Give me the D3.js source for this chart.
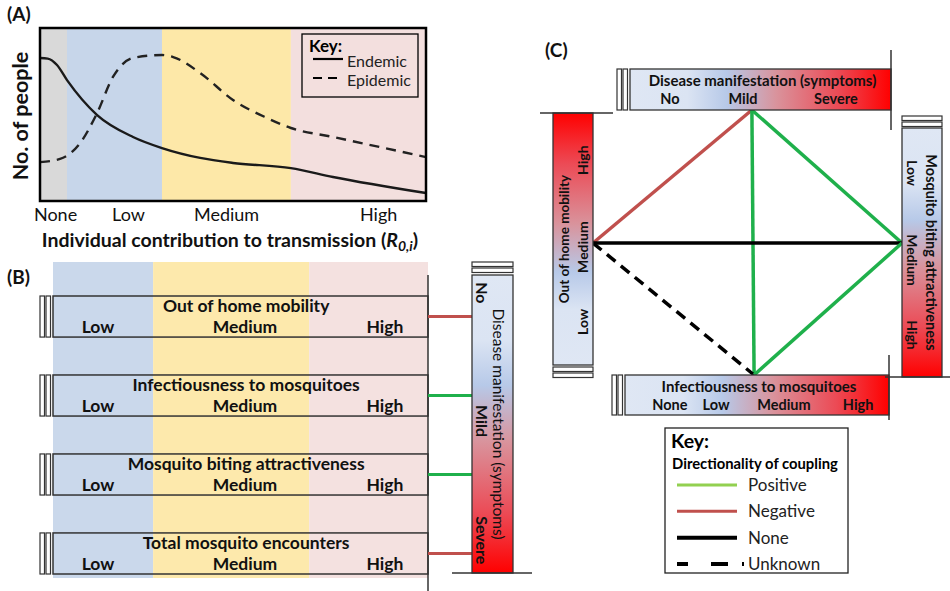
<!DOCTYPE html>
<html>
<head>
<meta charset="utf-8">
<style>
  body { margin: 0; background: #fff; }
  svg { font-family: Lato, 'Open Sans', sans-serif; }
</style>
<script src="https://d3js.org/d3.v7.min.js"></script>
</head>
<body>
<script>
// ---- panel A data ----
const levelNames = ['None', 'Low', 'Medium', 'High'];
const levelTickPos = [3.9, 22.8, 48.2, 87.6];
const bandEdges = [0, 7, 31.6, 65, 100];
const endemicX = [0, 2, 4.4, 7, 14.8, 24.1, 31.6, 41.5, 50, 65, 75.9, 100];
const endemicY = [82.7, 82.3, 78.6, 69.9, 49.7, 37, 30.6, 24.9, 22, 19, 13.9, 4.6];
const epidemicX = [0, 5.2, 10.4, 14.8, 18.9, 24.1, 31.6, 34.5, 41.5, 50, 58.8, 65, 75.9, 100];
const epidemicY = [22.5, 24.3, 33.5, 50.9, 71.7, 82.7, 84.4, 83.2, 74, 58.4, 48, 42.2, 37, 25.4];

// ---- panel B data ----
const traitNames = ['Out of home mobility', 'Infectiousness to mosquitoes', 'Mosquito biting attractiveness', 'Total mosquito encounters'];
const traitCoupling = ['Negative', 'Positive', 'Positive', 'Negative'];
const rowLevels = ['Low', 'Medium', 'High'];
const rowLevelPos = [12, 51.2, 88.5];
const rowBandEdges = [0, 26.7, 68.3, 100];
const symptomLevels = ['No', 'Mild', 'Severe'];
const symptomLevelPos = [0.06, 0.49, 0.89];

// ---- panel C data ----
const cTraits = ['Disease manifestation (symptoms)', 'Out of home mobility', 'Mosquito biting attractiveness', 'Infectiousness to mosquitoes'];
const cLevels = [['No', 'Mild', 'Severe'], ['Low', 'Medium', 'High'], ['Low', 'Medium', 'High'], ['None', 'Low', 'Medium', 'High']];
const cLevelPos = [[0.153, 0.433, 0.789], [0.171, 0.468, 0.813], [0.181, 0.53, 0.831], [0.17, 0.345, 0.602, 0.883]];
const cNodePos = [0.467, 0.484, 0.462, 0.489];
const links = [
  { source: 0, target: 1, type: 'Negative' },
  { source: 0, target: 3, type: 'Positive' },
  { source: 0, target: 2, type: 'Positive' },
  { source: 1, target: 2, type: 'None' },
  { source: 1, target: 3, type: 'Unknown' },
  { source: 3, target: 2, type: 'Positive' }
];
const keyTypes = ['Positive', 'Negative', 'None', 'Unknown'];

const bandColors = ['#d9d9d9', '#c7d6ea', '#fde8a8', '#f3dfde'];
const linkColor = { Positive: '#1fb04b', Negative: '#c0504d', None: '#000', Unknown: '#000' };
const keyColor = { Positive: '#92d050', Negative: '#c0504d', None: '#000', Unknown: '#000' };

const svg = d3.select('body').append('svg').attr('width', 950).attr('height', 591);

// gradient
const defs = svg.append('defs');
function gradient(id, x1, y1, x2, y2) {
  const g = defs.append('linearGradient').attr('id', id)
    .attr('x1', x1).attr('y1', y1).attr('x2', x2).attr('y2', y2);
  [[0, '#dfe7f4'], [0.22, '#dbe4f3'], [0.37, '#b7c9e8'], [0.56, '#d9939c'], [0.8, '#ec4a55'], [1, '#ff0000']]
    .forEach(s => g.append('stop').attr('offset', s[0]).attr('stop-color', s[1]));
}
gradient('gRight', 0, 0, 1, 0);
gradient('gDown', 0, 0, 0, 1);
gradient('gUp', 0, 1, 0, 0);

function marks(g, x, y, w, h, vertical) {
  // small "||" ends
  if (vertical) {
    g.append('rect').attr('x', x).attr('y', y).attr('width', 4.5).attr('height', h);
    g.append('rect').attr('x', x + 6).attr('y', y).attr('width', 4.5).attr('height', h);
  } else {
    g.append('rect').attr('x', x).attr('y', y).attr('width', w).attr('height', 4.5);
    g.append('rect').attr('x', x).attr('y', y + 6).attr('width', w).attr('height', 4.5);
  }
  g.selectAll('rect').attr('fill', '#fff').attr('stroke', '#333').attr('stroke-width', 1.2);
}

// ================= panel A =================
const ax = d3.scaleLinear().domain([0, 100]).range([40, 426]);
const ay = d3.scaleLinear().domain([0, 100]).range([201, 28]);
const gA = svg.append('g');

gA.selectAll('rect.band').data(d3.pairs(bandEdges)).join('rect')
  .attr('class', 'band')
  .attr('x', d => ax(d[0])).attr('y', ay(100))
  .attr('width', d => ax(d[1]) - ax(d[0])).attr('height', ay(0) - ay(100))
  .attr('fill', (d, i) => bandColors[i]);

const line = d3.line().x(d => ax(d[0])).y(d => ay(d[1])).curve(d3.curveMonotoneX);
gA.append('path').datum(d3.zip(epidemicX, epidemicY)).attr('d', line)
  .attr('fill', 'none').attr('stroke', '#222').attr('stroke-width', 2.4).attr('stroke-dasharray', '10,7');
gA.append('path').datum(d3.zip(endemicX, endemicY)).attr('d', line)
  .attr('fill', 'none').attr('stroke', '#1a1a1a').attr('stroke-width', 2.4);

gA.append('rect').attr('x', ax(0)).attr('y', ay(100))
  .attr('width', ax(100) - ax(0)).attr('height', ay(0) - ay(100))
  .attr('fill', 'none').attr('stroke', '#000').attr('stroke-width', 2.5);

const xAxis = d3.axisBottom(ax).tickValues(levelTickPos)
  .tickFormat((d, i) => levelNames[i]).tickSize(0).tickPadding(7);
gA.append('g').attr('transform', `translate(0,${ay(0)})`).call(xAxis)
  .call(g => g.select('.domain').remove())
  .selectAll('text').attr('font-size', 18).attr('fill', '#111').style('font-family', 'Lato');

const xt = gA.append('text').attr('x', 230).attr('y', 247).attr('text-anchor', 'middle')
  .attr('font-weight', 'bold').attr('font-size', 19.5).attr('fill', '#111');
xt.append('tspan').text('Individual contribution to transmission (');
xt.append('tspan').attr('font-style', 'italic').text('R');
xt.append('tspan').attr('font-style', 'italic').attr('font-size', 14).attr('dy', 4).text('0,i');
xt.append('tspan').attr('dy', -4).text(')');

gA.append('text').attr('transform', 'translate(28,116) rotate(-90)').attr('text-anchor', 'middle')
  .attr('font-weight', 'bold').attr('font-size', 21.5).attr('fill', '#111').text('No. of people');

// key
const keyA = gA.append('g');
keyA.append('rect').attr('x', 302).attr('y', 34).attr('width', 116).attr('height', 63)
  .attr('fill', 'none').attr('stroke', '#000').attr('stroke-width', 1.3);
keyA.append('text').attr('x', 309).attr('y', 52).attr('font-weight', 'bold').attr('font-size', 17).text('Key:');
[['Endemic', null], ['Epidemic', '9,6']].forEach((k, i) => {
  const y = 59 + i * 19;
  keyA.append('line').attr('x1', 313).attr('x2', 343).attr('y1', y).attr('y2', y)
    .attr('stroke', '#000').attr('stroke-width', 2.2).attr('stroke-dasharray', k[1]);
  keyA.append('text').attr('x', 347).attr('y', y + 8).attr('font-size', 16).attr('fill', '#222').text(k[0]);
});

// ================= panel B =================
const bx = d3.scaleLinear().domain([0, 100]).range([53, 428]);
const by = d3.scaleBand().domain(traitNames).range([296, 574]).paddingInner(0.48);
const gB = svg.append('g');

gB.selectAll('rect.band').data(d3.pairs(rowBandEdges)).join('rect')
  .attr('class', 'band')
  .attr('x', d => bx(d[0])).attr('y', 262)
  .attr('width', d => bx(d[1]) - bx(d[0])).attr('height', 316)
  .attr('fill', (d, i) => bandColors[i + 1]).attr('opacity', 0.95);

gB.append('line').attr('x1', 428).attr('x2', 428).attr('y1', 275).attr('y2', 591)
  .attr('stroke', '#333').attr('stroke-width', 1.5);

const rows = gB.selectAll('g.row').data(traitNames).join('g').attr('class', 'row')
  .attr('transform', d => `translate(0,${by(d)})`);
rows.append('rect').attr('x', bx(0)).attr('y', 0).attr('width', bx(100) - bx(0)).attr('height', by.bandwidth())
  .attr('fill', 'none').attr('stroke', '#333').attr('stroke-width', 1.5);
rows.each(function () {
  marks(d3.select(this).append('g'), 40, 0, 0, by.bandwidth(), true);
});
rows.append('text').attr('x', bx(51.5)).attr('y', 16).attr('text-anchor', 'middle')
  .attr('font-weight', 'bold').attr('font-size', 17.5).attr('fill', '#111').text(d => d);
rows.selectAll('text.lvl').data(rowLevels).join('text').attr('class', 'lvl')
  .attr('x', (d, i) => bx(rowLevelPos[i])).attr('y', 37).attr('text-anchor', 'middle')
  .attr('font-weight', 'bold').attr('font-size', 17.5).attr('fill', '#111').text(d => d);
rows.append('line').attr('x1', 428).attr('x2', 472)
  .attr('y1', by.bandwidth() / 2).attr('y2', by.bandwidth() / 2)
  .attr('stroke', (d, i) => linkColor[traitCoupling[i]]).attr('stroke-width', 3);

// symptoms bar (vertical)
const sy = d3.scaleLinear().domain([0, 1]).range([275, 573]);
gB.append('rect').attr('x', 472).attr('y', sy(0)).attr('width', 41).attr('height', sy(1) - sy(0))
  .attr('fill', 'url(#gDown)').attr('stroke', '#333').attr('stroke-width', 1.3);
marks(gB.append('g'), 472, 262, 41, 0, false);
gB.append('line').attr('x1', 452).attr('x2', 532).attr('y1', 573).attr('y2', 573)
  .attr('stroke', '#333').attr('stroke-width', 1.5);
gB.append('text').attr('transform', `translate(499,${sy(0.5)}) rotate(90)`).attr('text-anchor', 'middle')
  .attr('dominant-baseline', 'central').attr('font-size', 15.5).attr('fill', '#111').text('Disease manifestation (symptoms)');
gB.selectAll('text.sym').data(symptomLevels).join('text').attr('class', 'sym')
  .attr('transform', (d, i) => `translate(482,${sy(symptomLevelPos[i])}) rotate(90)`)
  .attr('text-anchor', 'middle').attr('dominant-baseline', 'central')
  .attr('font-weight', 'bold').attr('font-size', 16).attr('fill', '#111').text(d => d);

// ================= panel C =================
const gC = svg.append('g');
const cGeom = [
  { x: 630, y: 69, w: 261, h: 41, dir: 'right', fs: 15, lfs: 14.5 },
  { x: 553, y: 113, w: 40, h: 252, dir: 'up', fs: 13.5, lfs: 14 },
  { x: 902, y: 128, w: 40, h: 249, dir: 'down', fs: 14.5, lfs: 14 },
  { x: 625, y: 375, w: 264, h: 40, dir: 'right', fs: 15, lfs: 14.5 }
];
function along(i, t) {
  const g = cGeom[i];
  if (g.dir === 'right') return d3.scaleLinear().range([g.x, g.x + g.w])(t);
  if (g.dir === 'down') return d3.scaleLinear().range([g.y, g.y + g.h])(t);
  return d3.scaleLinear().range([g.y + g.h, g.y])(t);
}
const nodes = [
  [along(0, cNodePos[0]), cGeom[0].y + cGeom[0].h],
  [cGeom[1].x + cGeom[1].w, along(1, cNodePos[1])],
  [cGeom[2].x, along(2, cNodePos[2])],
  [along(3, cNodePos[3]), cGeom[3].y]
];

gC.selectAll('line.link').data(links).join('line').attr('class', 'link')
  .attr('x1', d => nodes[d.source][0]).attr('y1', d => nodes[d.source][1])
  .attr('x2', d => nodes[d.target][0]).attr('y2', d => nodes[d.target][1])
  .attr('stroke', d => linkColor[d.type]).attr('stroke-width', 3.5)
  .attr('stroke-dasharray', d => d.type === 'Unknown' ? '11,7' : null);

cGeom.forEach((g, i) => {
  const fill = g.dir === 'right' ? 'url(#gRight)' : g.dir === 'down' ? 'url(#gDown)' : 'url(#gUp)';
  gC.append('rect').attr('x', g.x).attr('y', g.y).attr('width', g.w).attr('height', g.h)
    .attr('fill', fill).attr('stroke', '#333').attr('stroke-width', 1.3);
  if (g.dir === 'right') {
    marks(gC.append('g'), g.x - 13, g.y, 0, g.h, true);
    gC.append('text').attr('x', g.x + g.w / 2 + 2).attr('y', g.y + 17).attr('text-anchor', 'middle')
      .attr('font-weight', 'bold').attr('font-size', g.fs).attr('fill', '#111').text(cTraits[i]);
    gC.selectAll(null).data(cLevels[i]).join('text')
      .attr('x', (d, j) => along(i, cLevelPos[i][j])).attr('y', g.y + 35).attr('text-anchor', 'middle')
      .attr('font-weight', 'bold').attr('font-size', g.lfs).attr('fill', '#111').text(d => d);
  } else {
    const rot = g.dir === 'up' ? -90 : 90;
    const titleX = g.dir === 'up' ? g.x + 11 : g.x + g.w - 11;
    const lvlX = g.dir === 'up' ? g.x + g.w - 11 : g.x + 10;
    gC.append('text').attr('transform', `translate(${titleX},${along(i, 0.5)}) rotate(${rot})`)
      .attr('text-anchor', 'middle').attr('dominant-baseline', 'central')
      .attr('font-weight', 'bold').attr('font-size', g.fs).attr('fill', '#111').text(cTraits[i]);
    gC.selectAll(null).data(cLevels[i]).join('text')
      .attr('transform', (d, j) => `translate(${lvlX},${along(i, cLevelPos[i][j])}) rotate(${rot})`)
      .attr('text-anchor', 'middle').attr('dominant-baseline', 'central')
      .attr('font-weight', 'bold').attr('font-size', g.lfs).attr('fill', '#111').text(d => d);
  }
});
// end caps
marks(gC.append('g'), 553, 367, 40, 0, false);
marks(gC.append('g'), 902, 116, 40, 0, false);
const caps = [[540, 113, 613, 113], [891, 50, 891, 130], [885, 377, 950, 377], [889, 355, 889, 420]];
gC.selectAll('line.cap').data(caps).join('line').attr('class', 'cap')
  .attr('x1', d => d[0]).attr('y1', d => d[1]).attr('x2', d => d[2]).attr('y2', d => d[3])
  .attr('stroke', '#333').attr('stroke-width', 1.5);

// key C
const keyC = gC.append('g');
keyC.append('rect').attr('x', 665).attr('y', 428).attr('width', 183).attr('height', 145)
  .attr('fill', '#fff').attr('stroke', '#222').attr('stroke-width', 1.3);
keyC.append('text').attr('x', 671).attr('y', 448).attr('font-weight', 'bold').attr('font-size', 19.5).text('Key:');
keyC.append('text').attr('x', 672).attr('y', 469).attr('font-weight', 'bold').attr('font-size', 14.8).text('Directionality of coupling');
const ky = d3.scalePoint().domain(keyTypes).range([485, 564]);
keyC.selectAll('line.k').data(keyTypes).join('line').attr('class', 'k')
  .attr('x1', 677).attr('x2', 744).attr('y1', d => ky(d)).attr('y2', d => ky(d))
  .attr('stroke', d => keyColor[d]).attr('stroke-width', d => d === 'Positive' || d === 'Negative' ? 3 : 4)
  .attr('stroke-dasharray', d => d === 'Unknown' ? '11,23,17,14,2,100' : '60,100');
keyC.selectAll('text.k').data(keyTypes).join('text').attr('class', 'k')
  .attr('x', 748).attr('y', d => ky(d) + 6).attr('font-size', 17).attr('fill', '#222').text(d => d);

// panel letters
svg.selectAll('text.panel').data([['(A)', 7, 21], ['(B)', 7, 284], ['(C)', 545, 57]]).join('text')
  .attr('class', 'panel').attr('x', d => d[1]).attr('y', d => d[2])
  .attr('font-weight', 'bold').attr('font-size', 19).attr('fill', '#111').text(d => d[0]);
</script>
</body>
</html>
